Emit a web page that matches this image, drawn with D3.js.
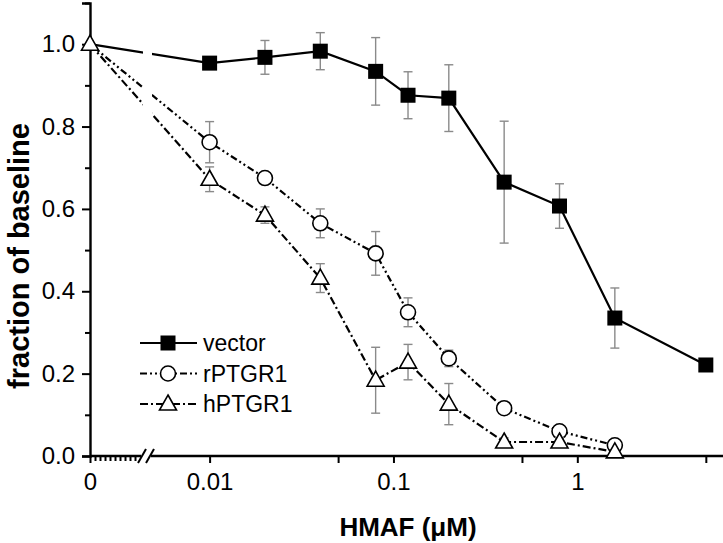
<!DOCTYPE html>
<html>
<head>
<meta charset="utf-8">
<script src="https://cdn.jsdelivr.net/npm/d3@7"></script>
<style>
  body { margin: 0; background: #fff; }
  svg { display: block; font-family: "Liberation Sans", Arial, sans-serif; }
</style>
</head>
<body>
<div id="chart"></div>
<script>
// doses in uM, 0 sits on the broken part of the axis
const doses = [0, 0.01, 0.02, 0.04, 0.08, 0.12, 0.2, 0.4, 0.8, 1.6, 5];

const vectorMean = [1.0, 0.954, 0.968, 0.983, 0.934, 0.876, 0.869, 0.665, 0.607, 0.335, 0.221];
const vectorErr  = [0, 0, 0.041, 0.045, 0.082, 0.057, 0.081, 0.148, 0.054, 0.073, 0];

const rMean = [1.0, 0.762, 0.675, 0.565, 0.492, 0.349, 0.237, 0.116, 0.060, 0.026];
const rErr  = [0, 0.050, 0.010, 0.035, 0.053, 0.035, 0.020, 0.010, 0.010, 0.010];

const hMean = [1.0, 0.672, 0.585, 0.432, 0.184, 0.228, 0.126, 0.034, 0.034, 0.010];
const hErr  = [0, 0.030, 0.020, 0.035, 0.080, 0.043, 0.050, 0.010, 0.010, 0.005];

const yMajor = [0, 0.2, 0.4, 0.6, 0.8, 1.0];
const yMinor = [0.1, 0.3, 0.5, 0.7, 0.9, 1.1];
const xMajor = [0.01, 0.1, 1];
const xMinor = [0.05, 0.5, 5];
const zeroMinor = [0.0001, 0.0002, 0.0003, 0.0004, 0.0005, 0.0006, 0.0007, 0.0008, 0.0009];

const width = 723, height = 543;

const svg = d3.select("#chart").append("svg")
    .attr("width", width)
    .attr("height", height);

// scales: a short linear piece for 0, then the log piece
const xZero = d3.scaleLinear().domain([0, 0.001]).range([90, 140]);
const xLog = d3.scaleLog().domain([0.0048, 6.2]).range([151, 723]);
const yScale = d3.scaleLinear().domain([0, 1.1]).range([456, 3]);

const xPos = d => d === 0 ? xZero(0) : xLog(d);

// clip away the break band so the lines show a gap like the axis
const clip = svg.append("clipPath").attr("id", "gapClip");
clip.append("rect").attr("x", 0).attr("y", 0).attr("width", 143).attr("height", height);
clip.append("rect").attr("x", 152).attr("y", 0).attr("width", width - 152).attr("height", height);

// y axis
const yAxis = svg.append("g").attr("transform", "translate(90,0)");
yAxis.call(d3.axisLeft(yScale).tickValues(yMajor).tickSize(8).tickPadding(7).tickFormat(d3.format(".1f")));
yAxis.append("g").call(d3.axisLeft(yScale).tickValues(yMinor).tickSize(5).tickFormat(""))
    .select(".domain").remove();
yAxis.selectAll(".tick line").attr("stroke-width", 2);
yAxis.selectAll("text").attr("font-size", 24).attr("fill", "#000");

// x axis, zero piece
const xAxisZero = svg.append("g").attr("transform", "translate(0,456)");
xAxisZero.call(d3.axisBottom(xZero).tickValues([0]).tickSize(7).tickPadding(10).tickFormat(d3.format("d")));
xAxisZero.append("g").call(d3.axisBottom(xZero).tickValues(zeroMinor).tickSize(5).tickFormat(""))
    .select(".domain").remove();
xAxisZero.select(".domain").attr("d", "M90,0H141");

// x axis, log piece
const xAxisLog = svg.append("g").attr("transform", "translate(0,456)");
xAxisLog.call(d3.axisBottom(xLog).tickValues(xMajor).tickSize(7).tickPadding(10).tickFormat(d => String(d)));
xAxisLog.append("g").call(d3.axisBottom(xLog).tickValues(xMinor).tickSize(7).tickFormat(""))
    .select(".domain").remove();
xAxisLog.select(".domain").attr("d", "M151,0H723");

svg.selectAll(".domain").attr("stroke-width", 2.4);
[xAxisZero, xAxisLog].forEach(g => {
    g.selectAll(".tick line").attr("stroke-width", 2);
    g.selectAll("text").attr("font-size", 24).attr("fill", "#000");
});

// break marks
const breakG = svg.append("g").attr("stroke", "#000").attr("stroke-width", 2);
[xZero.range()[1] + 2, xLog.range()[0] - 1].forEach(bx => {
    breakG.append("line")
        .attr("x1", bx - 4).attr("y1", 463)
        .attr("x2", bx + 4).attr("y2", 449);
});

// axis titles
svg.append("text")
    .attr("transform", "translate(29,256) rotate(-90)")
    .attr("text-anchor", "middle")
    .attr("font-size", 29)
    .attr("font-weight", "bold")
    .text("fraction of baseline");

svg.append("text")
    .attr("x", 408)
    .attr("y", 536)
    .attr("text-anchor", "middle")
    .attr("font-size", 26)
    .attr("font-weight", "bold")
    .text("HMAF (\u03bcM)");

const series = [
    { name: "vector", mean: vectorMean, err: vectorErr, dash: null, symbol: "square" },
    { name: "rPTGR1", mean: rMean, err: rErr, dash: "7,3,2,3,2,3", symbol: "circle" },
    { name: "hPTGR1", mean: hMean, err: hErr, dash: "8,3,2,3", symbol: "triangle" },
];

const line = d3.line()
    .x(d => xPos(d.x))
    .y(d => yScale(d.y));

function drawMarker(g, symbol, x, y) {
    if (symbol === "square") {
        g.append("rect")
            .attr("x", x - 7.5).attr("y", y - 7.5)
            .attr("width", 15).attr("height", 15)
            .attr("fill", "#000");
    } else if (symbol === "circle") {
        g.append("circle")
            .attr("cx", x).attr("cy", y).attr("r", 7.5)
            .attr("fill", "#fff")
            .attr("stroke", "#000").attr("stroke-width", 1.6);
    } else {
        g.append("path")
            .attr("d", `M${x},${y - 9}L${x + 8.5},${y + 6}L${x - 8.5},${y + 6}Z`)
            .attr("fill", "#fff")
            .attr("stroke", "#000").attr("stroke-width", 1.6);
    }
}

series.forEach(s => {
    const pts = s.mean.map((m, i) => ({ x: doses[i], y: m, e: s.err[i] }));
    const g = svg.append("g");

    g.append("path")
        .datum(pts)
        .attr("d", line)
        .attr("clip-path", "url(#gapClip)")
        .attr("fill", "none")
        .attr("stroke", "#000")
        .attr("stroke-width", 2.2)
        .attr("stroke-dasharray", s.dash);

    // error bars
    const eb = g.append("g").attr("stroke", "#8a8a8a").attr("stroke-width", 1.4);
    pts.filter(p => p.e > 0).forEach(p => {
        const cx = xPos(p.x);
        eb.append("line").attr("x1", cx).attr("x2", cx)
            .attr("y1", yScale(p.y + p.e)).attr("y2", yScale(p.y - p.e));
        [p.y + p.e, p.y - p.e].forEach(v => {
            eb.append("line").attr("x1", cx - 4.5).attr("x2", cx + 4.5)
                .attr("y1", yScale(v)).attr("y2", yScale(v));
        });
    });

    pts.forEach(p => {
        if (p.x === 0 && s.symbol !== "triangle") return;
        drawMarker(g, s.symbol, xPos(p.x), yScale(p.y));
    });
});

// legend
const legend = svg.append("g");
series.forEach((s, i) => {
    const ly = 343 + i * 30.5;
    legend.append("line")
        .attr("x1", 140).attr("x2", 197)
        .attr("y1", ly).attr("y2", ly)
        .attr("stroke", "#000")
        .attr("stroke-width", 2)
        .attr("stroke-dasharray", s.dash);
    drawMarker(legend, s.symbol, 168, ly);
    legend.append("text")
        .attr("x", 203)
        .attr("y", ly + 8)
        .attr("font-size", 23)
        .text(s.name);
});
</script>
</body>
</html>
